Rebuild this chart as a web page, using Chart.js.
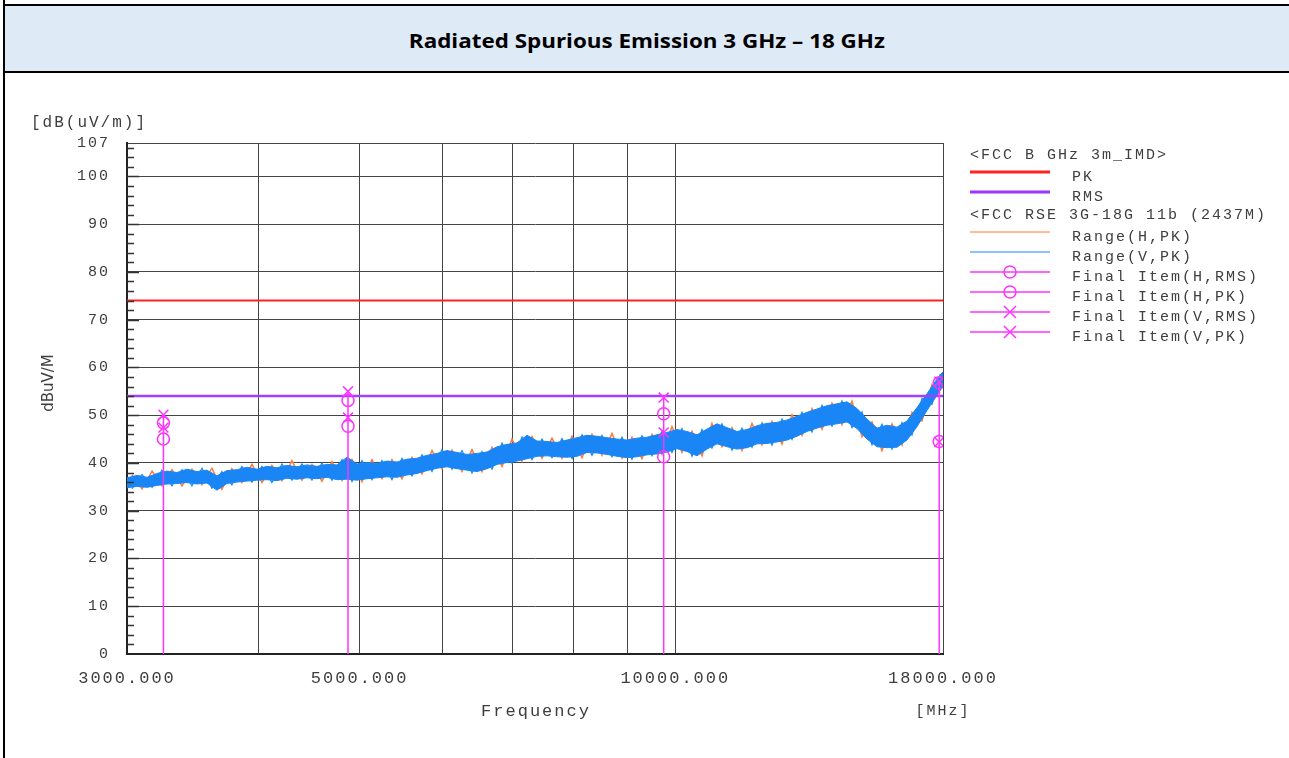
<!DOCTYPE html>
<html>
<head>
<meta charset="utf-8">
<script src="https://cdn.jsdelivr.net/npm/chart.js@4.4.1/dist/chart.umd.min.js"></script>
<style>
  body { margin: 0; width: 1289px; height: 758px; overflow: hidden; background: #fff; position: relative; }
  #leftLine { position: absolute; left: 3px; top: 0; width: 2px; height: 758px; background: #000; }
  #band { position: absolute; left: 5px; top: 4px; width: 1284px; height: 65px; background: #deeaf6;
          border-top: 2px solid #000; border-bottom: 2px solid #000; }
  #band div { position: absolute; left: 0; right: 0; top: 22px; text-align: center; }
  #title { display: inline-block; font: bold 19px "Open Sans", Lato, sans-serif; color: #000;
           transform-origin: center center; white-space: nowrap; }
  #chartBox { position: absolute; left: 0; top: 0; }
</style>
</head>
<body>
<div id="leftLine"></div>
<div id="band"><div><span id="title">Radiated Spurious Emission 3 GHz – 18 GHz</span></div></div>
<canvas id="chartBox" width="1289" height="758"></canvas>
<script>
// sweep frequencies (MHz)
const freqMHz = [
  3000, 3067, 3135, 3204, 3275, 3348, 3422, 3498, 3576, 3655,
  3736, 3819, 3904, 3991, 4079, 4170, 4262, 4357, 4454, 4553,
  4654, 4757, 4863, 4971, 5081, 5194, 5309, 5427, 5548, 5671,
  5797, 5926, 6057, 6192, 6329, 6470, 6614, 6761, 6911, 7064,
  7221, 7381, 7545, 7712, 7884, 8059, 8237, 8420, 8607, 8798,
  8993, 9193, 9397, 9606, 9819, 10037, 10260, 10488, 10720, 10958,
  11202, 11450, 11705, 11965, 12230, 12502, 12780, 13063, 13353, 13650,
  13953, 14262, 14579, 14903, 15233, 15572, 15917, 16271, 16632, 17001,
  17379, 17765, 18000
];

// Range(V,PK) band, upper / lower edge (dBuV/m)
const vPkHigh = [
  36.9, 37.4, 37.0, 37.8, 38.3, 38.0, 38.7, 38.2, 38.5, 37.3,
  38.4, 38.6, 39.1, 38.7, 39.3, 39.0, 39.5, 39.2, 39.6, 39.3,
  39.7, 39.6, 41.2, 39.8, 40.1, 39.9, 40.4, 40.2, 40.8, 41.0,
  41.6, 42.0, 42.6, 42.2, 41.8, 42.0, 42.3, 43.4, 43.9, 44.2,
  45.8, 44.6, 44.5, 44.3, 44.8, 45.3, 45.8, 45.6, 45.3, 45.0,
  44.8, 45.2, 45.4, 45.9, 46.4, 47.0, 46.6, 45.9, 47.1, 48.2,
  47.4, 46.6, 47.0, 47.8, 48.3, 48.5, 49.0, 49.8, 50.6, 51.3,
  52.0, 52.4, 52.8, 51.4, 49.2, 47.3, 47.9, 47.5, 48.8, 51.6,
  54.5, 57.6, 59.1
];
const vPkLow = [
  34.8, 35.1, 34.9, 35.3, 35.6, 35.7, 35.9, 35.6, 35.8, 34.3,
  35.7, 36.0, 36.2, 36.4, 36.5, 36.3, 36.8, 36.6, 36.9, 36.7,
  37.0, 36.5, 36.6, 36.4, 36.7, 36.9, 37.1, 37.0, 37.5, 37.8,
  38.4, 38.9, 39.2, 38.8, 38.5, 38.2, 38.8, 39.7, 40.1, 40.4,
  40.9, 41.4, 41.5, 41.3, 41.2, 41.4, 42.2, 42.1, 41.8, 41.4,
  41.1, 41.3, 41.7, 41.9, 42.3, 43.0, 42.4, 41.5, 42.9, 44.0,
  43.4, 42.9, 43.2, 44.0, 44.1, 44.4, 44.8, 45.6, 46.6, 47.3,
  47.9, 48.2, 48.6, 47.2, 45.0, 43.4, 43.2, 43.3, 44.8, 47.6,
  51.0, 54.2, 56.0
];

// in-between sweep points (MHz), used for the fast noise swings
const freqMidMHz = [
  3033, 3101, 3170, 3239, 3311, 3385, 3460, 3537, 3615, 3695,
  3777, 3861, 3947, 4035, 4124, 4216, 4309, 4405, 4503, 4603,
  4705, 4810, 4917, 5026, 5137, 5251, 5368, 5487, 5609, 5734,
  5861, 5991, 6124, 6260, 6399, 6541, 6687, 6836, 6987, 7142,
  7301, 7462, 7628, 7797, 7971, 8148, 8328, 8513, 8702, 8895,
  9092, 9294, 9501, 9712, 9927, 10148, 10373, 10604, 10838, 11079,
  11326, 11576, 11834, 12097, 12365, 12640, 12921, 13207, 13500, 13801,
  14107, 14419, 14740, 15068, 15401, 15743, 16093, 16451, 16815, 17189,
  17571, 17890
];
// Range(V,PK) swings at those points
const vPkSwing = [
  34.6, 37.6, 34.9, 38.5, 35.2, 38.6, 35.2, 38.9, 34.7, 38.2,
  35.4, 39.3, 36.0, 39.3, 35.9, 39.8, 36.4, 39.8, 36.4, 40.0,
  36.4, 40.7, 36.1, 40.5, 36.5, 40.5, 36.5, 41.0, 37.3, 41.7,
  38.2, 42.8, 38.7, 42.6, 37.9, 42.4, 38.7, 44.2, 39.9, 45.4,
  40.7, 45.0, 41.1, 45.1, 40.9, 45.9, 41.6, 45.8, 41.3, 45.4,
  40.8, 45.7, 41.5, 46.7, 42.2, 47.2, 41.4, 47.0, 43.1, 48.2,
  42.7, 47.3, 43.3, 48.4, 43.7, 49.2, 44.9, 50.6, 46.5, 52.1,
  47.7, 53.0, 47.4, 50.7, 43.8, 48.1, 42.9, 48.5, 45.8, 53.5,
  52.3, 58.6
];
// Range(H,PK) swings at those points
const hPkSwing = [
  37.5, 34.6, 38.3, 35.2, 38.6, 35.2, 38.7, 35.4, 38.9, 34.5,
  38.8, 35.9, 39.7, 35.9, 39.5, 36.3, 40.5, 36.4, 39.7, 36.2,
  40.3, 36.3, 40.7, 36.1, 40.7, 36.7, 40.7, 36.7, 41.2, 37.7,
  42.6, 38.8, 42.7, 38.2, 42.8, 38.2, 43.3, 39.3, 45.0, 40.4,
  45.5, 41.0, 45.2, 41.0, 45.6, 41.1, 46.0, 41.6, 46.2, 41.0,
  45.4, 40.9, 46.0, 41.8, 47.6, 42.2, 46.6, 41.5, 48.3, 43.4,
  47.4, 42.6, 48.3, 43.8, 48.7, 44.0, 50.1, 45.8, 51.4, 47.1,
  52.5, 48.0, 52.9, 45.5, 48.6, 42.6, 48.2, 43.8, 50.6, 48.8,
  56.4, 54.7
];

// limit lines
const limitPk = 74;
const limitRms = 54;

// final measurement items
const finalFreq = [3250, 4874, 9748, 17850];
const finalHRms = [45.0, 47.7, 41.3, 44.5];
const finalHPk = [48.4, 53.1, 50.3, 56.8];
const finalVRms = [47.4, 49.5, 46.4, 44.4];
const finalVPk = [50.1, 55.0, 53.7, 57.0];

// axes
const yTicks = [0, 10, 20, 30, 40, 50, 60, 70, 80, 90, 100, 107];
const xTicks = [3000, 4000, 5000, 6000, 7000, 8000, 9000, 10000, 18000];
const xLabelled = [3000, 5000, 10000, 18000];

const BLUE = '#1a86f5';
const ORANGE = '#ff7a38';
const MAG = '#ff33ff';
const MONO = '"Liberation Mono", "DejaVu Sans Mono", monospace';
const TXT = '#3e3e3e';

const legendRows = [
  { kind: 'head', text: '<FCC B GHz 3m_IMD>' },
  { kind: 'line', text: 'PK', color: '#ff2222', width: 3 },
  { kind: 'line', text: 'RMS', color: '#9933ff', width: 3 },
  { kind: 'head', text: '<FCC RSE 3G-18G 11b (2437M)' },
  { kind: 'line', text: 'Range(H,PK)', color: ORANGE, width: 1 },
  { kind: 'line', text: 'Range(V,PK)', color: BLUE, width: 1 },
  { kind: 'circle', text: 'Final Item(H,RMS)', color: MAG, width: 1.5 },
  { kind: 'circle', text: 'Final Item(H,PK)', color: MAG, width: 1.5 },
  { kind: 'cross', text: 'Final Item(V,RMS)', color: MAG, width: 1.5 },
  { kind: 'cross', text: 'Final Item(V,PK)', color: MAG, width: 1.5 }
];

// stretch the title to the width it has in the report
const title = document.getElementById('title');
title.style.transform = 'scaleX(' + (476 / title.getBoundingClientRect().width) + ')';

function pts(xs, ys) {
  return xs.map((x, i) => ({ x: x, y: ys[i] }));
}

// stems from 0 up to the highest final item at each frequency
const stemData = [];
finalFreq.forEach((f, i) => {
  const top = Math.max(finalHRms[i], finalHPk[i], finalVRms[i], finalVPk[i]);
  stemData.push({ x: f, y: 0 }, { x: f, y: top }, { x: f, y: null });
});

const textPlugin = {
  id: 'texts',
  beforeDraw(chart) {
    chart.ctx.letterSpacing = '2px';
  },
  afterDraw(chart) {
    const ctx = chart.ctx;
    const area = chart.chartArea;
    const yScale = chart.scales.y;
    ctx.save();
    ctx.letterSpacing = '2px';

    // minor ticks on the left axis
    ctx.strokeStyle = '#333';
    ctx.lineWidth = 1.5;
    for (let v = 2; v < 107; v += 2) {
      const y = Math.round(yScale.getPixelForValue(v)) + 0.5;
      ctx.beginPath();
      ctx.moveTo(area.left, y);
      ctx.lineTo(area.left + (v % 10 === 0 ? 12 : 7), y);
      ctx.stroke();
    }

    ctx.fillStyle = TXT;
    ctx.textBaseline = 'middle';
    ctx.textAlign = 'left';
    ctx.font = '16px ' + MONO;
    ctx.fillText('[dB(uV/m)]', 31, 123);

    ctx.font = '17px ' + MONO;
    ctx.textAlign = 'center';
    ctx.fillText('Frequency', 536, 711);
    ctx.font = '15px ' + MONO;
    ctx.fillText('[MHz]', 943, 711);

    ctx.save();
    ctx.translate(49, 383);
    ctx.rotate(-Math.PI / 2);
    ctx.letterSpacing = '0px';
    ctx.font = '15px "DejaVu Sans", sans-serif';
    ctx.fillText('dBuV/M', 0, 0);
    ctx.restore();

    // legend
    ctx.font = '15px ' + MONO;
    ctx.textAlign = 'left';
    legendRows.forEach((row, i) => {
      const y = 155 + i * 20;
      if (row.kind === 'head') {
        ctx.fillStyle = TXT;
        ctx.fillText(row.text, 970, y);
        return;
      }
      const ly = y - 3;
      ctx.strokeStyle = row.color;
      ctx.lineWidth = row.width;
      ctx.beginPath();
      ctx.moveTo(970, ly);
      ctx.lineTo(1050, ly);
      ctx.stroke();
      ctx.lineWidth = 1.5;
      if (row.kind === 'circle') {
        ctx.beginPath();
        ctx.arc(1010, ly, 6, 0, Math.PI * 2);
        ctx.stroke();
      } else if (row.kind === 'cross') {
        ctx.beginPath();
        ctx.moveTo(1004, ly - 6); ctx.lineTo(1016, ly + 6);
        ctx.moveTo(1016, ly - 6); ctx.lineTo(1004, ly + 6);
        ctx.stroke();
      }
      ctx.fillStyle = TXT;
      ctx.fillText(row.text, 1072, y + 2);
    });
    ctx.restore();
  }
};

const markerBase = {
  showLine: false,
  pointRadius: 6,
  pointHoverRadius: 6,
  pointBorderColor: MAG,
  pointBackgroundColor: 'transparent',
  pointBorderWidth: 1.5,
  order: 0
};

new Chart(document.getElementById('chartBox'), {
  type: 'scatter',
  data: {
    datasets: [
      Object.assign({ label: 'Final Item(H,RMS)', data: pts(finalFreq, finalHRms), pointStyle: 'circle' }, markerBase),
      Object.assign({ label: 'Final Item(H,PK)', data: pts(finalFreq, finalHPk), pointStyle: 'circle' }, markerBase),
      Object.assign({ label: 'Final Item(V,RMS)', data: pts(finalFreq, finalVRms), pointStyle: 'crossRot' }, markerBase, { pointRadius: 7 }),
      Object.assign({ label: 'Final Item(V,PK)', data: pts(finalFreq, finalVPk), pointStyle: 'crossRot' }, markerBase, { pointRadius: 7 }),
      {
        label: 'stems', data: stemData, showLine: true, spanGaps: false,
        borderColor: MAG, borderWidth: 1.5, pointRadius: 0, order: 1
      },
      {
        label: 'PK', data: pts([3000, 18000], [limitPk, limitPk]), showLine: true,
        borderColor: '#ff2222', borderWidth: 2, pointRadius: 0, order: 2
      },
      {
        label: 'RMS', data: pts([3000, 18000], [limitRms, limitRms]), showLine: true,
        borderColor: '#a040ff', borderWidth: 2.5, pointRadius: 0, order: 3
      },
      {
        label: 'Range(V,PK) swing', data: pts(freqMidMHz, vPkSwing), showLine: true,
        borderColor: BLUE, borderWidth: 1.2, pointRadius: 0, order: 4
      },
      {
        label: 'Range(V,PK)', data: pts(freqMHz, vPkHigh), showLine: true,
        borderColor: BLUE, backgroundColor: BLUE, borderWidth: 1,
        pointRadius: 0, fill: '+1', order: 5
      },
      {
        label: 'Range(V,PK) low', data: pts(freqMHz, vPkLow), showLine: true,
        borderColor: BLUE, borderWidth: 1, pointRadius: 0, order: 6
      },
      {
        label: 'Range(H,PK)', data: pts(freqMidMHz, hPkSwing), showLine: true,
        borderColor: ORANGE, borderWidth: 1.5, pointRadius: 0, order: 7
      }
    ]
  },
  options: {
    responsive: false,
    animation: false,
    events: [],
    layout: { padding: { left: 0, top: 143, right: 346, bottom: 0 } },
    plugins: {
      legend: { display: false },
      tooltip: { enabled: false }
    },
    scales: {
      x: {
        type: 'logarithmic',
        min: 3000,
        max: 18000,
        afterBuildTicks: s => { s.ticks = xTicks.map(v => ({ value: v })); },
        afterFit: s => { s.height = 104; },
        ticks: {
          autoSkip: false, maxRotation: 0, minRotation: 0, padding: 14,
          color: TXT, font: { family: MONO, size: 17 },
          callback: v => xLabelled.includes(v) ? v.toFixed(3) : ''
        },
        grid: { color: '#444', lineWidth: 1, drawTicks: false },
        border: { color: '#222', width: 2 }
      },
      y: {
        min: 0,
        max: 107,
        afterBuildTicks: s => { s.ticks = yTicks.map(v => ({ value: v })); },
        afterFit: s => { s.width = 127; },
        ticks: {
          padding: 17, color: TXT, font: { family: MONO, size: 15 },
          callback: v => String(v)
        },
        grid: { color: '#444', lineWidth: 1, drawTicks: false },
        border: { color: '#222', width: 2 }
      }
    }
  },
  plugins: [textPlugin]
});
</script>
</body>
</html>
